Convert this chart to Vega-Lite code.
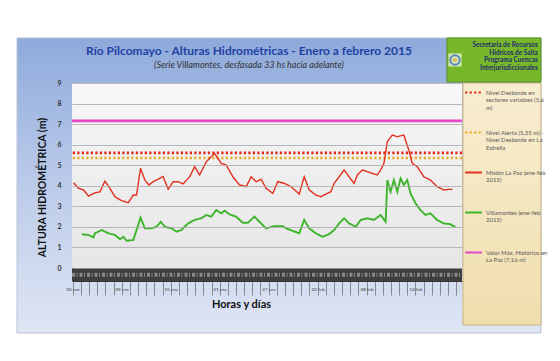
{
  "$schema": "https://vega.github.io/schema/vega-lite/v6.json",
  "width": 390,
  "height": 198,
  "autosize": {"type": "none"},
  "padding": {"left": 72, "top": 83, "right": 98, "bottom": 80},
  "background": "white",
  "config": {"font": "Lato", "view": {"stroke": null}},
  "resolve": {"axis": {"x": "independent", "y": "independent"}},
  "layer": [
    {
      "data": {"values": [{}]},
      "mark": {"type": "rect", "fill": {"gradient": "linear", "x1": 0, "y1": 0, "x2": 0, "y2": 1, "stops": [{"offset": 0, "color": "#8eaadb"}, {"offset": 0.5, "color": "#bccbea"}, {"offset": 1, "color": "#dfe6f4"}]}, "stroke": "#b9c3d6", "strokeWidth": 1},
      "encoding": {"x": {"datum": -3.84, "type": "quantitative", "axis": null}, "x2": {"datum": 60.38}, "y": {"datum": 11.19, "type": "quantitative", "axis": null}, "y2": {"datum": -3.16}}
    },
    {
      "data": {"values": [{}]},
      "mark": {"type": "rect", "fill": {"gradient": "linear", "x1": 0, "y1": 0, "x2": 0, "y2": 1, "stops": [{"offset": 0, "color": "#f7f7f7"}, {"offset": 1, "color": "#e6e6e6"}]}},
      "encoding": {"x": {"datum": 2.9, "type": "quantitative", "axis": null}, "x2": {"datum": 50.7}, "y": {"datum": 9, "type": "quantitative", "axis": null}, "y2": {"datum": 0}}
    },
    {
      "data": {"values": [{}]},
      "mark": {"type": "rect", "fill": "#3f3f3f"},
      "encoding": {"x": {"datum": 2.9, "type": "quantitative", "axis": null}, "x2": {"datum": 50.7}, "y": {"datum": 0, "type": "quantitative", "axis": null}, "y2": {"datum": -0.63}}
    },
    {
      "data": {"values": [{}]},
      "mark": {"type": "rule", "stroke": "#8a8a8a", "strokeWidth": 4, "strokeDash": [3, 1.5, 1, 2]},
      "encoding": {"x": {"datum": 2.9, "type": "quantitative", "axis": null}, "x2": {"datum": 50.7}, "y": {"datum": -0.33, "type": "quantitative", "axis": null}}
    },
    {
      "data": {"values": [{}]},
      "mark": {"type": "rect", "fill": {"gradient": "linear", "x1": 0, "y1": 0, "x2": 0, "y2": 1, "stops": [{"offset": 0, "color": "#f8edd0"}, {"offset": 1, "color": "#f0dfae"}]}, "stroke": "#c9b57f", "strokeWidth": 1},
      "encoding": {"x": {"datum": 50.82, "type": "quantitative", "axis": null}, "x2": {"datum": 60.38}, "y": {"datum": 9, "type": "quantitative", "axis": null}, "y2": {"datum": -2.77}}
    },
    {
      "data": {"values": [{}]},
      "mark": {"type": "rect", "fill": "#77b82b", "stroke": "#5c8f1f", "strokeWidth": 1},
      "encoding": {"x": {"datum": 48.86, "type": "quantitative", "axis": null}, "x2": {"datum": 60.38}, "y": {"datum": 11.19, "type": "quantitative", "axis": null}, "y2": {"datum": 9.05}}
    },
    {
      "data": {"values": [{}]},
      "mark": {"type": "point", "shape": "square", "filled": true, "fill": "#ffffff", "size": 170},
      "encoding": {"x": {"datum": 49.84, "type": "quantitative", "axis": null}, "y": {"datum": 10.12, "type": "quantitative", "axis": null}}
    },
    {
      "data": {"values": [{}]},
      "mark": {"type": "point", "filled": false, "stroke": "#2a5db0", "strokeWidth": 2, "size": 90},
      "encoding": {"x": {"datum": 49.84, "type": "quantitative", "axis": null}, "y": {"datum": 10.12, "type": "quantitative", "axis": null}}
    },
    {
      "data": {"values": [{}]},
      "mark": {"type": "point", "filled": true, "fill": "#d8b43c", "size": 22},
      "encoding": {"x": {"datum": 49.84, "type": "quantitative", "axis": null}, "y": {"datum": 10.12, "type": "quantitative", "axis": null}}
    },
    {
      "data": {"values": [{}]},
      "mark": {"type": "text", "text": ["Secretaría de Recursos", "Hídricos de Salta", "Programa Cuencas", "Interjurisdiccionales"], "align": "right", "baseline": "top", "fontSize": 6.5, "fontWeight": "bold", "lineHeight": 7.6, "color": "#1d2b6e"},
      "encoding": {"x": {"datum": 60.0, "type": "quantitative", "axis": null}, "y": {"datum": 10.98, "type": "quantitative", "axis": null}}
    },
    {
      "data": {"values": [{}]},
      "mark": {"type": "text", "text": "Río Pilcomayo - Alturas Hidrométricas - Enero  a  febrero 2015", "align": "center", "baseline": "alphabetic", "fontSize": 12, "fontWeight": "bold", "color": "#2142a3"},
      "encoding": {"x": {"datum": 24.59, "type": "quantitative", "axis": null}, "y": {"datum": 10.36, "type": "quantitative", "axis": null}}
    },
    {
      "data": {"values": [{}]},
      "mark": {"type": "text", "text": "(Serie Villamontes, desfasada 33 hs hacia adelante)", "align": "center", "baseline": "alphabetic", "fontSize": 9, "fontStyle": "italic", "color": "#333333"},
      "encoding": {"x": {"datum": 24.59, "type": "quantitative", "axis": null}, "y": {"datum": 9.73, "type": "quantitative", "axis": null}}
    },
    {
      "data": {"values": [
        {"s": "desborde", "nivel": 5.6},
        {"s": "alerta", "nivel": 5.35},
        {"s": "maximo", "nivel": 7.16}
      ]},
      "mark": {"type": "rule", "strokeWidth": 2.6},
      "encoding": {
        "y": {"field": "nivel", "type": "quantitative", "axis": null},
        "color": {"field": "s", "type": "nominal"},
        "strokeDash": {"field": "s", "type": "nominal"}
      }
    },
    {
      "data": {"values": [
        {"s": "lapaz", "dia": 3.1, "nivel": 4.15}, {"s": "lapaz", "dia": 3.7, "nivel": 3.88}, {"s": "lapaz", "dia": 4.31, "nivel": 3.8},
        {"s": "lapaz", "dia": 4.92, "nivel": 3.5}, {"s": "lapaz", "dia": 5.72, "nivel": 3.66}, {"s": "lapaz", "dia": 6.33, "nivel": 3.71},
        {"s": "lapaz", "dia": 6.94, "nivel": 4.23}, {"s": "lapaz", "dia": 7.55, "nivel": 3.88}, {"s": "lapaz", "dia": 8.16, "nivel": 3.47},
        {"s": "lapaz", "dia": 8.98, "nivel": 3.28}, {"s": "lapaz", "dia": 9.8, "nivel": 3.18}, {"s": "lapaz", "dia": 10.41, "nivel": 3.55},
        {"s": "lapaz", "dia": 10.81, "nivel": 3.55}, {"s": "lapaz", "dia": 11.3, "nivel": 4.85}, {"s": "lapaz", "dia": 11.83, "nivel": 4.28},
        {"s": "lapaz", "dia": 12.32, "nivel": 4.04}, {"s": "lapaz", "dia": 12.85, "nivel": 4.2}, {"s": "lapaz", "dia": 13.46, "nivel": 4.32},
        {"s": "lapaz", "dia": 14.07, "nivel": 4.45}, {"s": "lapaz", "dia": 14.69, "nivel": 3.83}, {"s": "lapaz", "dia": 15.3, "nivel": 4.2},
        {"s": "lapaz", "dia": 15.91, "nivel": 4.2}, {"s": "lapaz", "dia": 16.52, "nivel": 4.09}, {"s": "lapaz", "dia": 17.32, "nivel": 4.44},
        {"s": "lapaz", "dia": 17.93, "nivel": 4.93}, {"s": "lapaz", "dia": 18.54, "nivel": 4.53}, {"s": "lapaz", "dia": 19.36, "nivel": 5.17},
        {"s": "lapaz", "dia": 20.37, "nivel": 5.58}, {"s": "lapaz", "dia": 21.19, "nivel": 5.09}, {"s": "lapaz", "dia": 21.8, "nivel": 5.01},
        {"s": "lapaz", "dia": 22.62, "nivel": 4.44}, {"s": "lapaz", "dia": 23.43, "nivel": 4.04}, {"s": "lapaz", "dia": 24.25, "nivel": 3.96},
        {"s": "lapaz", "dia": 24.86, "nivel": 4.44}, {"s": "lapaz", "dia": 25.47, "nivel": 4.2}, {"s": "lapaz", "dia": 26.08, "nivel": 4.32},
        {"s": "lapaz", "dia": 26.69, "nivel": 3.88}, {"s": "lapaz", "dia": 27.51, "nivel": 3.63}, {"s": "lapaz", "dia": 28.12, "nivel": 4.2},
        {"s": "lapaz", "dia": 28.92, "nivel": 4.12}, {"s": "lapaz", "dia": 29.74, "nivel": 3.96}, {"s": "lapaz", "dia": 30.75, "nivel": 3.6},
        {"s": "lapaz", "dia": 31.36, "nivel": 4.44}, {"s": "lapaz", "dia": 31.97, "nivel": 3.8}, {"s": "lapaz", "dia": 32.79, "nivel": 3.55},
        {"s": "lapaz", "dia": 33.4, "nivel": 3.47}, {"s": "lapaz", "dia": 34.01, "nivel": 3.6}, {"s": "lapaz", "dia": 34.62, "nivel": 3.71},
        {"s": "lapaz", "dia": 35.03, "nivel": 4.12}, {"s": "lapaz", "dia": 35.64, "nivel": 4.44}, {"s": "lapaz", "dia": 36.25, "nivel": 4.77},
        {"s": "lapaz", "dia": 36.86, "nivel": 4.44}, {"s": "lapaz", "dia": 37.47, "nivel": 4.12}, {"s": "lapaz", "dia": 37.88, "nivel": 4.53},
        {"s": "lapaz", "dia": 38.49, "nivel": 4.77}, {"s": "lapaz", "dia": 39.1, "nivel": 4.69}, {"s": "lapaz", "dia": 39.72, "nivel": 4.6},
        {"s": "lapaz", "dia": 40.33, "nivel": 4.53}, {"s": "lapaz", "dia": 40.73, "nivel": 4.77}, {"s": "lapaz", "dia": 41.13, "nivel": 5.09},
        {"s": "lapaz", "dia": 41.55, "nivel": 6.15}, {"s": "lapaz", "dia": 42.16, "nivel": 6.47}, {"s": "lapaz", "dia": 42.77, "nivel": 6.39},
        {"s": "lapaz", "dia": 43.57, "nivel": 6.47}, {"s": "lapaz", "dia": 44.18, "nivel": 5.74}, {"s": "lapaz", "dia": 44.6, "nivel": 5.09},
        {"s": "lapaz", "dia": 45.21, "nivel": 4.93}, {"s": "lapaz", "dia": 46.02, "nivel": 4.44}, {"s": "lapaz", "dia": 46.83, "nivel": 4.28},
        {"s": "lapaz", "dia": 47.65, "nivel": 3.96}, {"s": "lapaz", "dia": 48.46, "nivel": 3.8}, {"s": "lapaz", "dia": 49.07, "nivel": 3.83},
        {"s": "lapaz", "dia": 49.52, "nivel": 3.82}
      ]},
      "mark": {"type": "line", "strokeWidth": 1.4},
      "encoding": {
        "x": {"field": "dia", "type": "quantitative", "axis": null},
        "y": {"field": "nivel", "type": "quantitative", "axis": null},
        "color": {"field": "s", "type": "nominal"},
        "strokeDash": {"field": "s", "type": "nominal"}
      }
    },
    {
      "data": {"values": [
        {"s": "villamontes", "dia": 4.1, "nivel": 1.64}, {"s": "villamontes", "dia": 4.92, "nivel": 1.61}, {"s": "villamontes", "dia": 5.53, "nivel": 1.49},
        {"s": "villamontes", "dia": 5.72, "nivel": 1.69}, {"s": "villamontes", "dia": 6.54, "nivel": 1.85}, {"s": "villamontes", "dia": 7.36, "nivel": 1.69},
        {"s": "villamontes", "dia": 8.16, "nivel": 1.61}, {"s": "villamontes", "dia": 8.78, "nivel": 1.4}, {"s": "villamontes", "dia": 9.19, "nivel": 1.52},
        {"s": "villamontes", "dia": 9.59, "nivel": 1.33}, {"s": "villamontes", "dia": 10.41, "nivel": 1.36}, {"s": "villamontes", "dia": 10.81, "nivel": 1.85},
        {"s": "villamontes", "dia": 11.3, "nivel": 2.45}, {"s": "villamontes", "dia": 11.83, "nivel": 1.93}, {"s": "villamontes", "dia": 12.65, "nivel": 1.93},
        {"s": "villamontes", "dia": 13.26, "nivel": 2.01}, {"s": "villamontes", "dia": 13.78, "nivel": 2.25}, {"s": "villamontes", "dia": 14.27, "nivel": 2.01},
        {"s": "villamontes", "dia": 15.09, "nivel": 1.93}, {"s": "villamontes", "dia": 15.7, "nivel": 1.77}, {"s": "villamontes", "dia": 16.31, "nivel": 1.85},
        {"s": "villamontes", "dia": 17.13, "nivel": 2.17}, {"s": "villamontes", "dia": 17.93, "nivel": 2.34}, {"s": "villamontes", "dia": 18.75, "nivel": 2.42},
        {"s": "villamontes", "dia": 19.36, "nivel": 2.58}, {"s": "villamontes", "dia": 19.97, "nivel": 2.5}, {"s": "villamontes", "dia": 20.58, "nivel": 2.82},
        {"s": "villamontes", "dia": 21.19, "nivel": 2.66}, {"s": "villamontes", "dia": 21.6, "nivel": 2.79}, {"s": "villamontes", "dia": 22.21, "nivel": 2.61},
        {"s": "villamontes", "dia": 23.02, "nivel": 2.5}, {"s": "villamontes", "dia": 23.84, "nivel": 2.2}, {"s": "villamontes", "dia": 24.45, "nivel": 2.2},
        {"s": "villamontes", "dia": 25.26, "nivel": 2.5}, {"s": "villamontes", "dia": 25.87, "nivel": 2.25}, {"s": "villamontes", "dia": 26.69, "nivel": 1.93},
        {"s": "villamontes", "dia": 27.7, "nivel": 2.04}, {"s": "villamontes", "dia": 28.73, "nivel": 2.04}, {"s": "villamontes", "dia": 29.13, "nivel": 1.93},
        {"s": "villamontes", "dia": 30.75, "nivel": 1.69}, {"s": "villamontes", "dia": 31.36, "nivel": 2.34}, {"s": "villamontes", "dia": 31.97, "nivel": 1.93},
        {"s": "villamontes", "dia": 32.79, "nivel": 1.69}, {"s": "villamontes", "dia": 33.61, "nivel": 1.52}, {"s": "villamontes", "dia": 34.42, "nivel": 1.65},
        {"s": "villamontes", "dia": 35.03, "nivel": 1.85}, {"s": "villamontes", "dia": 35.64, "nivel": 2.17}, {"s": "villamontes", "dia": 36.25, "nivel": 2.42},
        {"s": "villamontes", "dia": 36.86, "nivel": 2.17}, {"s": "villamontes", "dia": 37.68, "nivel": 2.01}, {"s": "villamontes", "dia": 38.29, "nivel": 2.34},
        {"s": "villamontes", "dia": 39.1, "nivel": 2.42}, {"s": "villamontes", "dia": 39.91, "nivel": 2.34}, {"s": "villamontes", "dia": 40.73, "nivel": 2.58},
        {"s": "villamontes", "dia": 41.34, "nivel": 2.25}, {"s": "villamontes", "dia": 41.55, "nivel": 4.28}, {"s": "villamontes", "dia": 41.95, "nivel": 3.71},
        {"s": "villamontes", "dia": 42.35, "nivel": 4.28}, {"s": "villamontes", "dia": 42.77, "nivel": 3.71}, {"s": "villamontes", "dia": 43.17, "nivel": 4.36},
        {"s": "villamontes", "dia": 43.57, "nivel": 4.04}, {"s": "villamontes", "dia": 43.99, "nivel": 4.28}, {"s": "villamontes", "dia": 44.39, "nivel": 3.63},
        {"s": "villamontes", "dia": 45.0, "nivel": 3.15}, {"s": "villamontes", "dia": 45.61, "nivel": 2.82}, {"s": "villamontes", "dia": 46.22, "nivel": 2.58},
        {"s": "villamontes", "dia": 46.83, "nivel": 2.66}, {"s": "villamontes", "dia": 47.65, "nivel": 2.34}, {"s": "villamontes", "dia": 48.46, "nivel": 2.17},
        {"s": "villamontes", "dia": 49.19, "nivel": 2.14}, {"s": "villamontes", "dia": 49.89, "nivel": 2.0}
      ]},
      "mark": {"type": "line", "strokeWidth": 1.9},
      "encoding": {
        "x": {
          "field": "dia", "type": "quantitative",
          "scale": {"domain": [2.9, 50.7], "nice": false, "zero": false},
          "axis": {
            "orient": "bottom",
            "zindex": 1,
            "title": "Horas y días",
            "titleFontSize": 11,
            "titleFontWeight": "bold",
            "titleColor": "#111111",
            "titleX": 169,
            "titleY": 17,
            "titleBaseline": "top",
            "values": [3,4,5,6,7,8,9,10,11,12,13,14,15,16,17,18,19,20,21,22,23,24,25,26,27,28,29,30,31,32,33,34,35,36,37,38,39,40,41,42,43,44,45,46,47,48,49,50],
            "labelExpr": "(datum.value - 3) % 6 == 0 ? (datum.value <= 31 ? (datum.value < 10 ? '0' : '') + datum.value + ' ene' : (datum.value - 31 < 10 ? '0' : '') + (datum.value - 31) + ' feb') : ''",
            "labelFontSize": 4.5,
            "labelColor": "#333333",
            "labelPadding": -9,
            "labelOverlap": false,
            "labelFlush": false,
            "tickSize": 14,
            "tickWidth": 0.7,
            "tickColor": "#666666",
            "domain": true,
            "domainColor": "#333333",
            "grid": false
          }
        },
        "y": {
          "field": "nivel", "type": "quantitative",
          "scale": {"domain": [-0.63, 9], "nice": false, "zero": false},
          "axis": {
            "orient": "left",
            "zindex": 1,
            "title": "ALTURA HIDROMÉTRICA (m)",
            "titleFontSize": 10.5,
            "titleFontWeight": "bold",
            "titleColor": "#111111",
            "titlePadding": 9,
            "titleY": 104,
            "values": [0,1,2,3,4,5,6,7,8,9],
            "labelOverlap": false,
            "labelFontSize": 7,
            "labelFontWeight": "bold",
            "labelColor": "#333333",
            "labelPadding": 11,
            "ticks": false,
            "domain": false,
            "grid": true,
            "gridColor": "#a8a8a8",
            "gridWidth": 0.8
          }
        },
        "color": {
          "field": "s", "type": "nominal",
          "scale": {
            "domain": ["desborde", "alerta", "lapaz", "villamontes", "maximo"],
            "range": ["#e8231b", "#f2a81d", "#e0301e", "#3cb52a", "#e547c8"]
          },
          "legend": {
            "title": null,
            "orient": "none",
            "legendX": 392,
            "legendY": 0,
            "padding": 0,
            "gridAlign": "all",
            "symbolType": "stroke",
            "symbolSize": 280,
            "symbolStrokeWidth": 2,
            "labelFontSize": 6,
            "labelColor": "#5a5a5a",
            "labelOffset": 3,
            "labelBaseline": "alphabetic",
            "labelLimit": 200,
            "rowPadding": 12,
            "labelExpr": "datum.value == 'desborde' ? ['Nivel Desborde en', 'sectores variables (5,6', 'm)'] : datum.value == 'alerta' ? ['Nivel Alerta (5,35 m) -', 'Nivel Desborde en La', 'Estrella'] : datum.value == 'lapaz' ? ['Misión La Paz (ene-feb', '2015)', ''] : datum.value == 'villamontes' ? ['Villamontes (ene-feb', '2015)', ''] : ['Valor Máx. Histórico en', 'La Paz (7,16 m)', '']",
            "encode": {"labels": {"update": {"lineHeight": {"value": 7.5}, "dy": {"value": 2}}}}
          }
        },
        "strokeDash": {
          "field": "s", "type": "nominal",
          "scale": {
            "domain": ["desborde", "alerta", "lapaz", "villamontes", "maximo"],
            "range": [[2.2, 2.3], [2.2, 2.3], [1, 0], [1, 0], [1, 0]]
          }
        }
      }
    }
  ]
}
